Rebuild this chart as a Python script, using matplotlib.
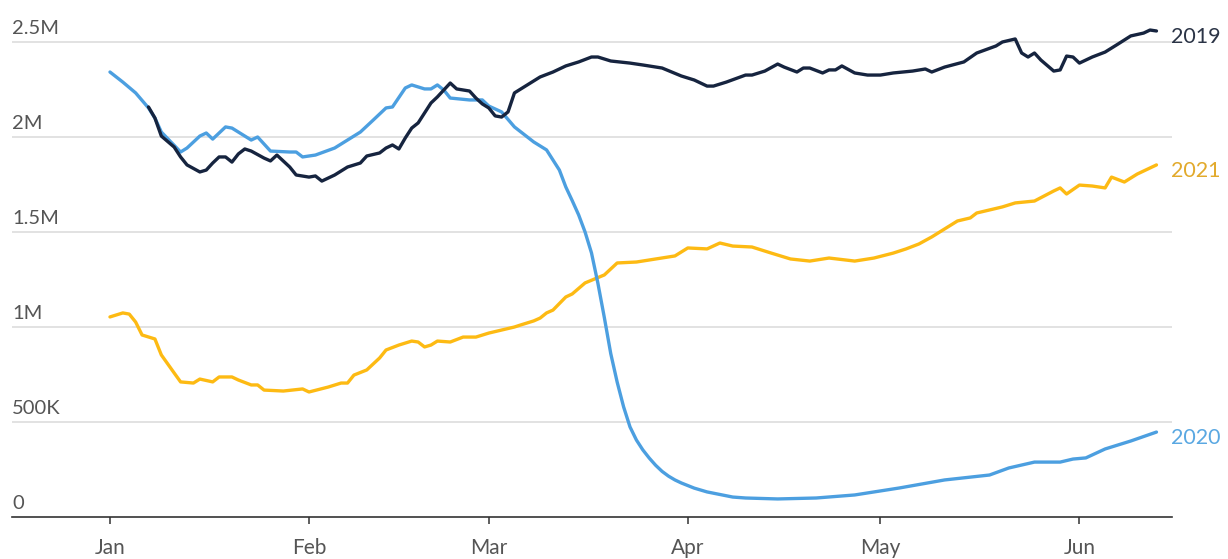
import matplotlib
matplotlib.use("Agg")
from matplotlib import pyplot as plt
from matplotlib import transforms

plt.rcParams['font.family'] = ['Lato', 'DejaVu Sans']

# days since Jan 1, 7-day average travellers (thousands)
days_2019 = [6, 7, 8, 10, 11, 12, 14, 15, 16, 17, 18, 19, 20, 21, 22, 24, 25, 26, 28, 29,
             31, 32, 33, 35, 37, 39, 40, 42, 43, 44, 45, 46, 47, 48, 50, 51, 53, 54, 56, 57,
             58, 59, 60, 61, 62, 63, 65, 67, 69, 71, 73, 75, 76, 78, 81, 83, 86, 89, 91, 93,
             94, 96, 99, 100, 102, 104, 105, 107, 108, 109, 111, 112, 113, 114, 116, 118, 120,
             122, 125, 127, 128, 130, 133, 135, 138, 139, 141, 142, 143, 144, 145, 147, 148,
             149, 150, 151, 153, 155, 157, 159, 161, 162, 163]
vals_2019 = [2158, 2100, 2005, 1947, 1895, 1853, 1816, 1826, 1863, 1895, 1895, 1868, 1911,
             1937, 1926, 1889, 1874, 1905, 1842, 1800, 1789, 1795, 1768, 1800, 1842, 1863,
             1900, 1916, 1942, 1958, 1937, 1995, 2047, 2074, 2179, 2211, 2284, 2253, 2242,
             2205, 2174, 2153, 2111, 2105, 2132, 2232, 2274, 2316, 2342, 2374, 2395, 2421,
             2421, 2400, 2389, 2379, 2363, 2321, 2300, 2268, 2268, 2289, 2326, 2326, 2347,
             2384, 2368, 2342, 2363, 2363, 2337, 2353, 2353, 2374, 2337, 2326, 2326, 2337,
             2347, 2358, 2342, 2368, 2395, 2442, 2479, 2500, 2516, 2442, 2421, 2442, 2405,
             2347, 2353, 2426, 2421, 2389, 2421, 2447, 2489, 2532, 2547, 2563, 2558]

days_2020 = [0, 2, 4, 6, 7, 8, 11, 12, 14, 15, 16, 18, 19, 22, 23, 25, 28, 29, 30, 32, 35,
             37, 39, 41, 43, 44, 46, 47, 49, 50, 51, 52, 53, 56, 58, 59, 61, 63, 66, 68, 70,
             71, 72, 73, 74, 75, 76, 77, 78, 79, 80, 81, 82, 83, 84, 85, 86, 87, 88, 89, 91,
             93, 97, 99, 104, 110, 116, 123, 130, 137, 140, 144, 148, 150, 152, 155, 159, 163]
vals_2020 = [2342, 2289, 2232, 2153, 2100, 2026, 1921, 1942, 2005, 2021, 1989, 2053, 2047,
             1984, 2000, 1926, 1921, 1921, 1895, 1905, 1942, 1984, 2026, 2089, 2153, 2158,
             2258, 2274, 2253, 2253, 2274, 2247, 2205, 2195, 2195, 2163, 2132, 2053, 1974,
             1932, 1826, 1737, 1665, 1590, 1500, 1390, 1230, 1050, 860, 710, 580, 474, 405,
             353, 310, 272, 240, 215, 195, 179, 152, 132, 105, 100, 95, 100, 116, 153, 195,
             221, 258, 289, 289, 305, 311, 358, 400, 447]

days_2021 = [0, 2, 3, 4, 5, 7, 8, 10, 11, 13, 14, 16, 17, 19, 20, 22, 23, 24, 27, 30, 31,
             34, 36, 37, 38, 40, 42, 43, 45, 47, 48, 49, 50, 51, 53, 55, 57, 59, 61, 63, 64,
             66, 67, 68, 69, 71, 72, 74, 77, 79, 82, 85, 88, 90, 93, 95, 97, 100, 103, 106,
             109, 112, 116, 119, 122, 124, 126, 128, 129, 132, 134, 135, 137, 139, 141, 144,
             147, 148, 149, 151, 153, 155, 156, 158, 160, 163]
vals_2021 = [1053, 1074, 1068, 1026, 958, 937, 853, 758, 711, 705, 726, 711, 737, 737, 721,
             695, 695, 668, 663, 674, 658, 684, 705, 705, 747, 774, 837, 879, 905, 926, 921,
             895, 905, 926, 921, 947, 947, 968, 984, 1000, 1011, 1032, 1047, 1074, 1089,
             1158, 1174, 1232, 1274, 1337, 1342, 1358, 1374, 1416, 1411, 1442, 1426, 1421,
             1389, 1358, 1347, 1363, 1347, 1363, 1389, 1411, 1437, 1474, 1495, 1558, 1574,
             1600, 1616, 1632, 1653, 1663, 1716, 1732, 1700, 1747, 1742, 1732, 1789, 1763,
             1805, 1853]

month_days = [0, 31, 59, 90, 120, 151]
month_labels = ['Jan', 'Feb', 'Mar', 'Apr', 'May', 'Jun']
y_ticks = [0, 500, 1000, 1500, 2000, 2500]
y_labels = ['0', '500K', '1M', '1.5M', '2M', '2.5M']

series = [
    ('2021', days_2021, vals_2021, '#fdba13', '#e2aa2c'),
    ('2020', days_2020, vals_2020, '#4c9fe0', '#5aa8e2'),
    ('2019', days_2019, vals_2019, '#16243f', '#2b3446'),
]

fig = plt.figure(figsize=(12.28, 5.59), dpi=100)
ax = fig.add_axes([12 / 1228, 42 / 559, 1160 / 1228, 494 / 559])

for name, d, v, col, lcol in series:
    ax.plot(d, v, color=col, lw=2.4, solid_capstyle='round', solid_joinstyle='round',
            clip_on=False, zorder=3)
    ax.annotate(name, (d[-1], v[-1]), xytext=(15, -6), textcoords='offset pixels',
                va='center', ha='left', fontsize=15.5, color=lcol, annotation_clip=False)

ax.set_xlim(-15.26, 165.42)
ax.set_ylim(0, 2600)

for t in y_ticks[1:]:
    ax.axhline(t, color='#e2e2e2', lw=1.4, zorder=1)

trans = transforms.blended_transform_factory(ax.transAxes, ax.transData)
for t, lab in zip(y_ticks, y_labels):
    ax.annotate(lab, (0, t), xycoords=trans, xytext=(0, 5), textcoords='offset pixels',
                ha='left', va='bottom', fontsize=14.5, color='#555555')

for s in ['top', 'right', 'left']:
    ax.spines[s].set_visible(False)
ax.spines['bottom'].set_color('#333333')
ax.spines['bottom'].set_linewidth(1.2)

ax.set_yticks([])
ax.set_xticks(month_days)
ax.set_xticklabels(month_labels)
ax.tick_params(axis='x', length=5, width=1.1, color='#333333', pad=10,
               labelsize=15, labelcolor='#555555')

fig.savefig('out.png', dpi=100)
